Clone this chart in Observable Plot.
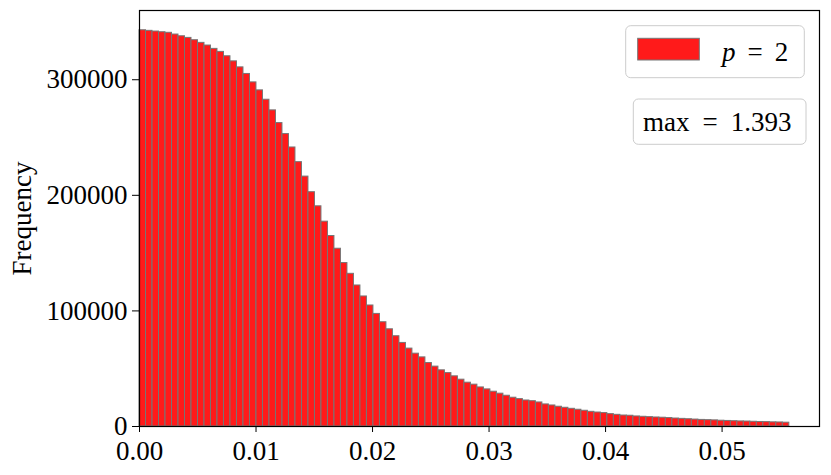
<!DOCTYPE html>
<html>
<head>
<meta charset="utf-8">
<script src="https://cdn.jsdelivr.net/npm/d3@7"></script>
<script src="https://cdn.jsdelivr.net/npm/@observablehq/plot@0.6"></script>
<style>
  html, body { margin: 0; padding: 0; background: #fff; }
  #chart { position: relative; width: 831px; height: 475px; }
</style>
</head>
<body>
<div id="chart"></div>
<script>
// ---- data (100 bins) ----
const binWidth = 0.0005577;
const counts = [
  342800, 342300, 341700, 341100, 340600, 339100, 337600, 336200, 334200, 331900,
  329600, 326700, 324100, 320300, 315900, 310700, 305000, 297700, 290800, 282700,
  273500, 262500, 253000, 241400, 228700, 216200, 202700, 190500, 177200, 164800,
  153800, 141400, 132100, 122000, 112500, 104700, 97400, 90200, 84100, 78100,
  72300, 67400, 63000, 59800, 54900, 51800, 48600, 46200, 43400, 40500,
  37900, 36200, 33800, 32100, 30100, 28400, 26600, 24900, 23700, 22500,
  21900, 20800, 19100, 18200, 17100, 16200, 15300, 14500, 13600, 12700,
  12100, 11600, 10700, 10100, 9500, 9300, 8700, 8400, 8100, 7800,
  7600, 7300, 6900, 6600, 6300, 6000, 5700, 5500, 5300, 5000,
  4800, 4600, 4400, 4300, 4100, 3900, 3800, 3600, 3500, 3300
];
const xTicks = [0, 0.01, 0.02, 0.03, 0.04, 0.05];
const yTicks = [0, 100000, 200000, 300000];
const yLabel = "Frequency";
const legendParts = ["p", "=", "2"];
const maxParts = ["max", "=", "1.393"];

const bins = counts.map((c, i) => ({x1: i * binWidth, x2: (i + 1) * binWidth, count: c}));

const FONT = "'Liberation Serif', 'DejaVu Serif', serif";

const plot = Plot.plot({
  width: 831,
  height: 475,
  marginLeft: 139,
  marginRight: 12,
  marginTop: 10,
  marginBottom: 49,
  style: {fontFamily: FONT, fontSize: "27px", background: "white", color: "black"},
  x: {domain: [0, 0.05836]},
  y: {domain: [0, 359900]},
  marks: [
    Plot.rectY(bins, {x1: "x1", x2: "x2", y: "count", fill: "#ff1a1a", stroke: "#767676", strokeWidth: 1}),
    Plot.frame({stroke: "black", strokeWidth: 1.2}),
    Plot.axisX({ticks: xTicks, tickFormat: d3.format(".2f"), tickSize: 6, tickPadding: 8, label: null, fontSize: 27}),
    Plot.axisY({ticks: yTicks, tickFormat: d3.format("d"), tickSize: 7, tickPadding: 5, label: null, fontSize: 27}),
    Plot.text([yLabel], {frameAnchor: "left", textAnchor: "middle", rotate: -90, dx: -117, fontSize: 27})
  ]
});
document.getElementById("chart").appendChild(plot);

// ---- legend boxes (inside the plot frame, upper right) ----
const svg = d3.select(plot);
const g = svg.append("g").attr("font-family", FONT).attr("font-size", 27).attr("text-anchor", "start");
g.append("rect").attr("x", 625.7).attr("y", 25.7).attr("width", 178.6).attr("height", 52)
  .attr("rx", 5).attr("fill", "white").attr("fill-opacity", 0.85).attr("stroke", "#cccccc");
g.append("rect").attr("x", 637.7).attr("y", 38.3).attr("width", 61.6).attr("height", 21.7)
  .attr("fill", "#ff1a1a").attr("stroke", "#767676").attr("stroke-width", 1);
const t1 = g.append("text").attr("x", 722).attr("y", 60.5);
t1.append("tspan").attr("font-style", "italic").text(legendParts[0]);
t1.append("tspan").attr("dx", 12).text(legendParts[1]);
t1.append("tspan").attr("dx", 12).text(legendParts[2]);

g.append("rect").attr("x", 633.3).attr("y", 99).attr("width", 172.7).attr("height", 45.3)
  .attr("rx", 5).attr("fill", "white").attr("fill-opacity", 0.85).attr("stroke", "#cccccc");
const t2 = g.append("text").attr("x", 643).attr("y", 130.5);
t2.append("tspan").text(maxParts[0]);
t2.append("tspan").attr("dx", 13).text(maxParts[1]);
t2.append("tspan").attr("dx", 13).text(maxParts[2]);
</script>
</body>
</html>
